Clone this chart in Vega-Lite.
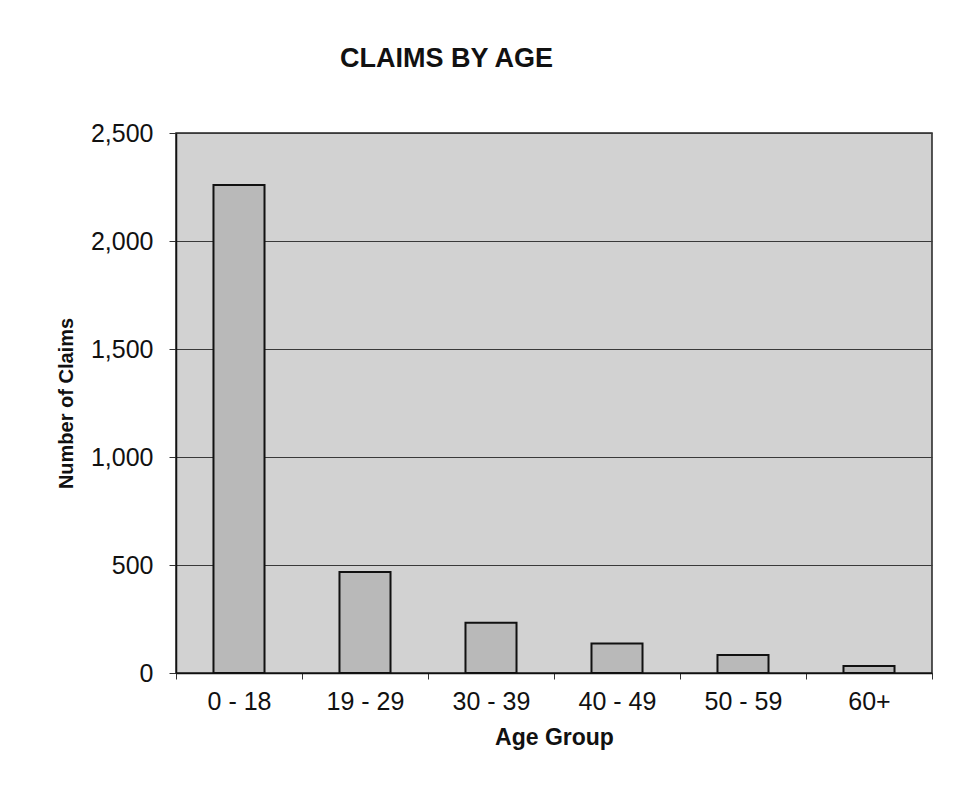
{
  "$schema": "https://vega.github.io/schema/vega-lite/v6.json",
  "autosize": {"type": "none"},
  "width": 756,
  "height": 540,
  "padding": {"left": 176, "top": 133, "right": 31, "bottom": 130},
  "background": "white",
  "title": {
    "text": "CLAIMS BY AGE",
    "anchor": "start",
    "frame": "group",
    "dx": 164,
    "offset": 27,
    "baseline": "alphabetic",
    "font": "Liberation Sans",
    "fontSize": 27,
    "fontWeight": "bold",
    "color": "#111111"
  },
  "data": {
    "values": [
      {"age": "0 - 18", "claims": 2259},
      {"age": "19 - 29", "claims": 468},
      {"age": "30 - 39", "claims": 233},
      {"age": "40 - 49", "claims": 137},
      {"age": "50 - 59", "claims": 83},
      {"age": "60+", "claims": 32}
    ]
  },
  "mark": {"type": "bar", "width": {"band": 0.405}, "fill": "#b9b9b9", "stroke": "#111111", "strokeWidth": 2},
  "encoding": {
    "x": {
      "field": "age",
      "type": "nominal",
      "sort": null,
      "scale": {"paddingInner": 0, "paddingOuter": 0},
      "axis": {
        "title": "Age Group",
        "labelAngle": 0,
        "tickBand": "extent",
        "tickSize": 6,
        "tickColor": "#333333",
        "domainColor": "#111111",
        "domainWidth": 1.5,
        "labelFont": "Liberation Sans",
        "labelFontSize": 25,
        "labelColor": "#111111",
        "labelPadding": 10,
        "titleFont": "Liberation Sans",
        "titleFontSize": 23,
        "titleFontWeight": "bold",
        "titleColor": "#111111",
        "titlePadding": 12,
        "grid": false
      }
    },
    "y": {
      "field": "claims",
      "type": "quantitative",
      "scale": {"domain": [0, 2500], "nice": false},
      "axis": {
        "title": "Number of Claims",
        "values": [0, 500, 1000, 1500, 2000, 2500],
        "format": ",d",
        "tickSize": 7,
        "tickColor": "#333333",
        "domainColor": "#111111",
        "domainWidth": 1.5,
        "grid": true,
        "gridColor": "#3a3a3a",
        "gridWidth": 1.2,
        "labelFont": "Liberation Sans",
        "labelFontSize": 25,
        "labelColor": "#111111",
        "labelPadding": 16,
        "titleFont": "Liberation Sans",
        "titleFontSize": 20,
        "titleFontWeight": "bold",
        "titleColor": "#111111",
        "titlePadding": 14
      }
    }
  },
  "config": {
    "view": {"fill": "#d2d2d2", "stroke": "#222222", "strokeWidth": 1.5}
  }
}
